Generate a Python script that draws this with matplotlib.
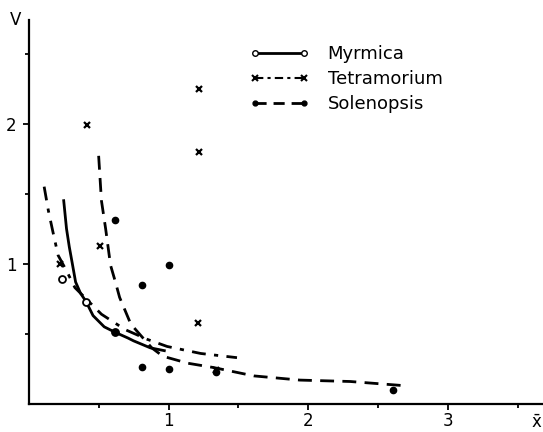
import numpy as np
import matplotlib
matplotlib.use("Agg")
import matplotlib.pyplot as plt

# measured points (x = mean, V = variance ratio)
myr_x = [0.24, 0.41, 0.62]
myr_y = [0.89, 0.73, 0.51]
tet_x = [0.22, 0.42, 0.51, 1.22, 1.22, 1.21, 1.34]
tet_y = [1.00, 1.99, 1.13, 2.25, 1.80, 0.58, 0.24]
sol_x = [0.62, 0.81, 1.00, 0.81, 1.00, 1.34, 2.61, 0.62]
sol_y = [1.31, 0.85, 0.99, 0.26, 0.25, 0.23, 0.10, 0.51]

# fitted curves
myr_cx = [0.25, 0.27, 0.29, 0.31, 0.335, 0.37, 0.41, 0.46, 0.54, 0.62, 0.71, 0.75, 0.87, 0.97]
myr_cy = [1.45, 1.25, 1.12, 1.01, 0.87, 0.79, 0.73, 0.63, 0.55, 0.51, 0.47, 0.45, 0.40, 0.38]
tet_cx = [0.11, 0.14, 0.17, 0.21, 0.27, 0.33, 0.41, 0.52, 0.69, 0.85, 0.99, 1.23, 1.49]
tet_cy = [1.55, 1.38, 1.24, 1.06, 0.95, 0.83, 0.75, 0.64, 0.53, 0.46, 0.41, 0.36, 0.33]
sol_cx = [0.50, 0.52, 0.55, 0.585, 0.62, 0.65, 0.73, 0.80, 0.88, 0.96, 1.14, 1.32, 1.61, 1.94, 2.30, 2.69]
sol_cy = [1.77, 1.45, 1.25, 0.99, 0.87, 0.76, 0.57, 0.49, 0.40, 0.34, 0.29, 0.26, 0.20, 0.17, 0.16, 0.13]

labels = ["Myrmica", "Tetramorium", "Solenopsis"]

fig = plt.figure(figsize=(5.43, 4.32), dpi=100)
ax = fig.add_axes([0.053, 0.065, 0.947, 0.889])

k = "black"
ax.plot(myr_cx, myr_cy, color=k, lw=2, solid_joinstyle="round")
ax.plot(tet_cx, tet_cy, color=k, lw=2, dashes=(5, 3, 1.5, 3))
ax.plot(sol_cx, sol_cy, color=k, lw=2, dashes=(5, 3))

ax.plot(myr_x, myr_y, "o", mfc="white", mec=k, mew=1.3, ms=5)
ax.plot(tet_x, tet_y, "x", color=k, mew=1.6, ms=5)
ax.plot(sol_x, sol_y, "o", color=k, ms=4.5)

# legend handles
h1, = ax.plot([], [], color=k, lw=2, marker="o", mfc="white", mec=k, ms=4)
h2, = ax.plot([], [], color=k, lw=1.5, dashes=(4, 2, 1.5, 2), marker="x", ms=5, mew=1.5)
h3, = ax.plot([], [], color=k, lw=2, dashes=(4, 2.5), marker="o", ms=3.5)
ax.legend([h1, h2, h3], labels, loc="upper left", bbox_to_anchor=(0.43, 0.935),
          frameon=False, numpoints=2, handlelength=3.3, handletextpad=1.0,
          labelspacing=0.4, borderaxespad=0, borderpad=0, fontsize=13)

ax.set_xlim(0, 3.68)
ax.set_ylim(0, 2.74)
ax.set_xticks([1, 2, 3])
ax.set_yticks([1, 2])
ax.set_xticks([0.5, 1.5, 2.5, 3.5], minor=True)
ax.set_yticks([0.5, 1.5, 2.5], minor=True)
ax.tick_params(which="both", direction="out", width=1.3, color=k)
ax.tick_params(which="major", length=4, labelsize=12, pad=5)
ax.tick_params(axis="x", which="major", pad=2)
ax.tick_params(which="minor", length=3)

for s in ["top", "right"]:
    ax.spines[s].set_visible(False)
for s in ["left", "bottom"]:
    ax.spines[s].set_linewidth(1.6)

fig.text(0.028, 0.953, "V", fontsize=12, ha="center", va="center")
fig.text(0.988, 0.02, r"$\bar{\mathrm{x}}$", fontsize=12, ha="center", va="center")

fig.savefig("out.png", dpi=100)
